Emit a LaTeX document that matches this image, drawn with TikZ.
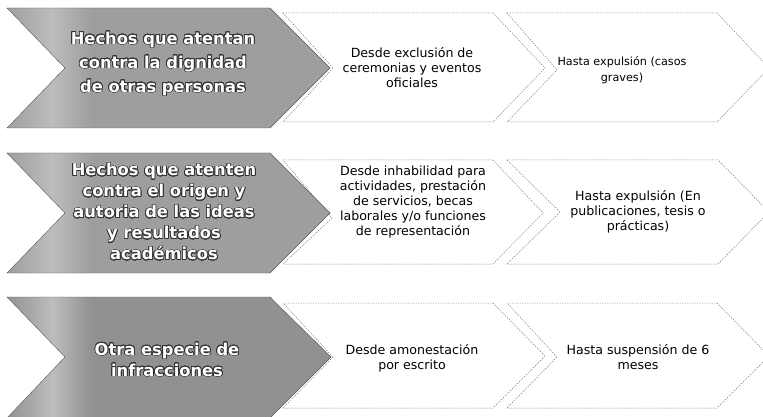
\documentclass[tikz,border=0pt]{standalone}
\usepackage{fontspec}
\setmainfont{DejaVu Sans}
\usepackage{contour}
\contourlength{0.7pt}
\contournumber{24}
\definecolor{gA}{gray}{0.62}
\definecolor{gB}{gray}{0.74}
\definecolor{gC}{gray}{0.57}
\definecolor{edge}{gray}{0.45}
\pgfdeclarehorizontalshading{bandA}{100bp}{color(0bp)=(gA); color(25bp)=(gA); color(32bp)=(gB); color(38bp)=(gA); color(100bp)=(gA)}
\pgfdeclarehorizontalshading{bandC}{100bp}{color(0bp)=(gC); color(25bp)=(gC); color(32bp)=(gB); color(38bp)=(gC); color(100bp)=(gC)}
\tikzset{
  graychev/.style={shading=bandA, draw=gray!70!black, line width=0.4pt},
  graychevdark/.style={shading=bandC, draw=gray!70!black, line width=0.4pt},
  whitechev/.style={draw=edge, line width=0.5pt, dash pattern=on 1.2pt off 1.3pt, fill=white},
  graylabel/.style={align=center, text=white, inner sep=0pt},
  whitelabel/.style={align=center, text=black, font=\fontsize{12.6}{15}\selectfont, inner sep=0pt}
}
\newcommand{\gl}[1]{\contour{black!80}{#1}}
\begin{document}
\begin{tikzpicture}[x=1pt,y=-1pt]
\useasboundingbox (0,0) rectangle (763,417);
\clip (0,0) rectangle (763,417);
% ---------- row 1 ----------
\path[whitechev] (283,13) -- (493,13) -- (545,68) -- (493,122) -- (283,122) -- (333,68) -- cycle;
\path[whitechev] (507,13) -- (717,13) -- (769,68) -- (717,122) -- (507,122) -- (557,70) -- cycle;
\path[graychev] (7,8) -- (270,8) -- (330,68) -- (270,128) -- (7,128) -- (65,68) -- cycle;
\node[graylabel, font=\bfseries\fontsize{16.3}{24}\selectfont] (g1) at (163,64) {\gl{Hechos que atentan}\\\gl{contra la dignidad}\\\gl{de otras personas}};
\node[whitelabel] (d1) at (412,68) {Desde exclusión de\\ceremonias y eventos\\oficiales};
\node[whitelabel, font=\fontsize{11.2}{15.5}\selectfont] (h1) at (622,70) {Hasta expulsión (casos\\graves)};
% ---------- row 2 ----------
\path[whitechev] (283,160) -- (493,160) -- (543,213) -- (493,264) -- (283,264) -- (332,218) -- cycle;
\path[whitechev] (507,160) -- (718,160) -- (769,212) -- (718,264) -- (507,264) -- (560,212) -- cycle;
\path[graychev] (7,153) -- (270,153) -- (330,213) -- (270,273) -- (7,273) -- (65,213) -- cycle;
\node[graylabel, font=\bfseries\fontsize{16.3}{21}\selectfont] (g2) at (164,212) {\gl{Hechos que atenten}\\\gl{contra el origen y}\\\gl{autoria de las ideas}\\\gl{y resultados}\\\gl{académicos}};
\node[whitelabel] (d2) at (413,202) {Desde inhabilidad para\\actividades, prestación\\de servicios, becas\\laborales y/o funciones\\de representación};
\node[whitelabel] (h2) at (638,212) {Hasta expulsión (En\\publicaciones, tesis o\\prácticas)};
% ---------- row 3 ----------
\path[whitechev] (283,303) -- (493,303) -- (545,356) -- (493,408) -- (283,408) -- (333,357) -- cycle;
\path[whitechev] (507,303) -- (717,303) -- (769,356) -- (717,408) -- (507,408) -- (557,357) -- cycle;
\path[graychevdark] (7,297) -- (270,297) -- (331,357) -- (270,418) -- (7,418) -- (65,357) -- cycle;
\node[graylabel, font=\bfseries\fontsize{16.3}{21}\selectfont] (g3) at (167,360) {\gl{Otra especie de}\\\gl{infracciones}};
\node[whitelabel] (d3) at (412,358) {Desde amonestación\\por escrito};
\node[whitelabel] (h3) at (638,357) {Hasta suspensión de 6\\meses};
\end{tikzpicture}
\end{document}
